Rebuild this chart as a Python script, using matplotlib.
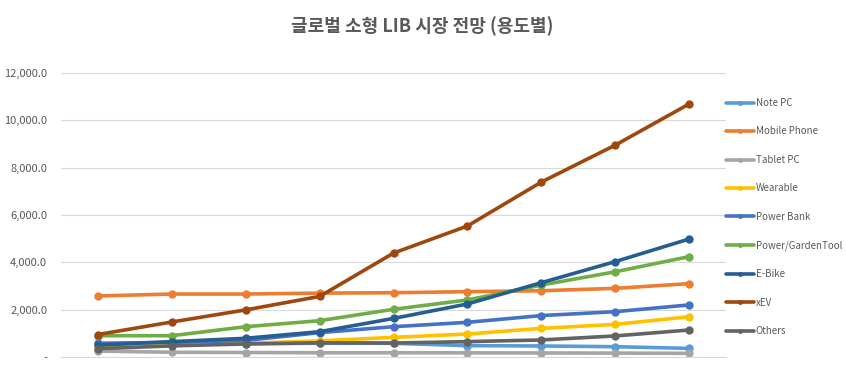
"""Global small LIB market outlook by application (line chart)."""

import matplotlib

matplotlib.use("Agg")
import matplotlib.pyplot as plt
from matplotlib.ticker import FuncFormatter

plt.rcParams["font.family"] = ["Noto Sans CJK KR", "DejaVu Sans"]

TITLE = "글로벌 소형 LIB 시장 전망 (용도별)"
periods = list(range(9))

series_names = [
    "Note PC",
    "Mobile Phone",
    "Tablet PC",
    "Wearable",
    "Power Bank",
    "Power/GardenTool",
    "E-Bike",
    "xEV",
    "Others",
]
note_pc = [560, 560, 570, 580, 580, 480, 465, 435, 365]
mobile_phone = [2580, 2660, 2660, 2700, 2715, 2760, 2800, 2900, 3100]
tablet_pc = [250, 200, 190, 180, 180, 175, 170, 165, 155]
wearable = [450, 500, 580, 680, 830, 970, 1210, 1380, 1700]
power_bank = [580, 620, 700, 1030, 1280, 1465, 1750, 1915, 2200]
power_garden = [900, 900, 1280, 1535, 2015, 2410, 3040, 3600, 4240]
e_bike = [500, 650, 790, 1070, 1630, 2240, 3140, 4030, 4985]
xev = [950, 1480, 1990, 2560, 4390, 5535, 7390, 8950, 10690]
others = [350, 470, 550, 600, 590, 650, 720, 890, 1140]

colors = ["#5B9BD5", "#ED7D31", "#A5A5A5", "#FFC000", "#4472C4",
          "#70AD47", "#255E91", "#9E480E", "#636363"]

all_series = [note_pc, mobile_phone, tablet_pc, wearable, power_bank,
              power_garden, e_bike, xev, others]

fig = plt.figure(figsize=(8.46, 3.73), dpi=100)
ax = fig.add_axes([61 / 846, 1 - 357 / 373, 665 / 846, 284 / 373])

for name, values, color in zip(series_names, all_series, colors):
    ax.plot(periods, values, color=color, linewidth=2.6, marker="o",
            markersize=5, label=name, solid_capstyle="round")

ax.set_xlim(-0.5, 8.5)
ax.set_ylim(0, 12000)
ax.set_yticks(range(0, 12001, 2000))
ax.yaxis.set_major_formatter(
    FuncFormatter(lambda v, _: "-" if v == 0 else f"{v:,.1f}"))
ax.set_xticks([])
ax.tick_params(axis="y", length=0, labelsize=8, labelcolor="#595959", pad=10)
ax.grid(axis="y", color="#D9D9D9", linewidth=0.8)
ax.set_axisbelow(True)
for side in ("top", "right", "left"):
    ax.spines[side].set_visible(False)
ax.spines["bottom"].set_color("#D9D9D9")

fig.text(0.499, 1 - 26 / 373, TITLE, ha="center", va="center",
         fontsize=13, fontweight="bold", color="#595959")

fig.legend(loc="upper left", bbox_to_anchor=(726 / 846, 1 - 98 / 373),
           frameon=False, fontsize=7, labelcolor="#595959",
           handlelength=2.9, handletextpad=0.15, labelspacing=1.90,
           borderaxespad=0, borderpad=0, markerscale=0.5)

fig.savefig("out.png", dpi=100)
